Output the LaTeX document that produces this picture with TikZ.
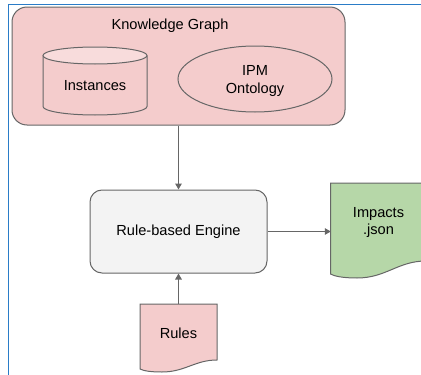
\documentclass[tikz,border=0pt]{standalone}
\usepackage{fontspec}
\setmainfont{Liberation Sans}
\usetikzlibrary{arrows.meta,shapes.geometric}
\definecolor{pinkf}{HTML}{F4CCCC}
\definecolor{pinktop}{HTML}{F8DCDC}
\definecolor{greenf}{HTML}{B6D7A8}
\definecolor{grayf}{HTML}{F3F3F3}
\definecolor{edgec}{HTML}{666666}
\definecolor{framec}{HTML}{2A7CC7}
\begin{document}
\begin{tikzpicture}[x=1pt,y=-1pt,
  font=\fontsize{14.6}{17.5}\selectfont,
  box/.style={draw=edgec, line width=1pt, inner sep=0pt, align=center, text=black},
  shapeline/.style={draw=edgec, line width=1pt},
  txt/.style={align=center, inner sep=0pt, text=black},
  conn/.style={draw=edgec, line width=1.3pt, -{Triangle[length=6pt,width=6.5pt]}}]
\useasboundingbox (0,0) rectangle (421,375);
\begin{scope}
\clip (0,0) rectangle (421,375);
% frame
\draw[framec, line width=1.5pt] (8.3,376) -- (8.3,4.7) -- (422,4.7);
% knowledge graph container
\node[box, fill=pinkf, rounded corners=15pt, minimum width=333pt, minimum height=118pt] (kg) at (178.5,66) {};
\node[txt] (kgt) at (170,26) {Knowledge Graph};
% cylinder
\draw[shapeline, fill=pinkf] (43,55.5) -- (43,106.5) arc[start angle=180, end angle=0, x radius=52, y radius=8.5] -- (147,55.5);
\draw[shapeline, fill=pinktop] (95,55.5) ellipse[x radius=52, y radius=8.5];
\node[txt] (inst) at (95,86) {Instances};
% ontology ellipse
\node[ellipse, box, fill=pinkf, minimum width=154pt, minimum height=66pt] (ipm) at (255,79) {};
\node[txt] (ipmt) at (255,81) {IPM\\Ontology};
% engine
\node[box, fill=grayf, rounded corners=12pt, minimum width=177pt, minimum height=83pt] (eng) at (178.5,231.5) {Rule-based Engine};
% impacts document
\draw[shapeline, fill=greenf] (330.5,183) -- (426,183) -- (426,261)
  .. controls (398,261) and (386,278) .. (357,278)
  .. controls (342,278) and (334,276) .. (330.5,274) -- cycle;
\node[txt, minimum width=95pt, minimum height=79pt] (imp) at (378.5,222.5) {Impacts\\.json};
% rules document
\draw[shapeline, fill=pinkf] (140,304) -- (217,304) -- (217,360)
  .. controls (195,360) and (185,372) .. (162,372)
  .. controls (151,372) and (144,371) .. (140,369) -- cycle;
\node[txt, minimum width=77pt, minimum height=58pt] (rules) at (178.5,333) {Rules};
% connectors
\draw[conn] (kg.south) -- (eng.north);
\draw[conn] (eng.east) -- (eng.east -| imp.west);
\draw[conn] (rules.north) -- (eng.south);
\end{scope}
\end{tikzpicture}
\end{document}
